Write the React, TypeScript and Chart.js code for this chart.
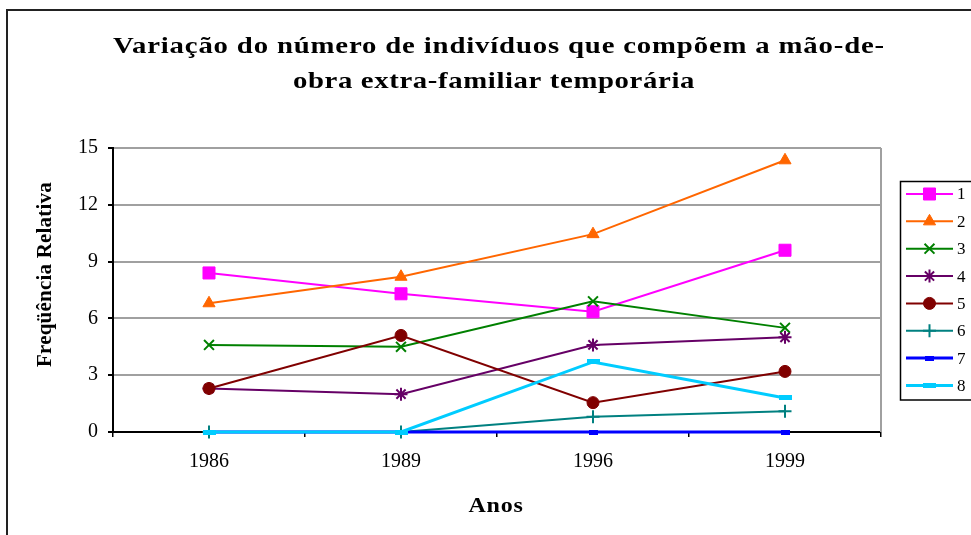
import React, { useEffect, useRef } from 'react';
import { Chart, registerables } from 'chart.js';
import { drawPoint } from 'chart.js/helpers';

Chart.register(...registerables);

// ---- data ----
const categories = ['1986', '1989', '1996', '1999'];
const seriesNames = ['1', '2', '3', '4', '5', '6', '7', '8'];
const series1 = [8.4, 7.3, 6.35, 9.6];
const series2 = [6.8, 8.2, 10.45, 14.35];
const series3 = [4.6, 4.5, 6.9, 5.5];
const series4 = [2.3, 2.0, 4.6, 5.0];
const series5 = [2.3, 5.1, 1.55, 3.2];
const series6 = [0, 0, 0.8, 1.1];
const series7 = [0, 0, 0, 0];
const series8 = [0, 0, 3.7, 1.8];
const yMin = 0;
const yMax = 15;
const yStep = 3;

const titleLines = ['Variação do número de indivíduos que compõem a mão-de-', 'obra extra-familiar temporária'];
const yTitle = 'Freqüência Relativa';
const xTitle = 'Anos';

const SERIF = '"Liberation Serif", "Times New Roman", serif';

function barMarker(w: number, h: number, color: string): HTMLCanvasElement {
  const c = document.createElement('canvas');
  c.width = w;
  c.height = h;
  const g = c.getContext('2d')!;
  g.fillStyle = color;
  g.fillRect(0, 0, w, h);
  return c;
}

// draws text centred on cx, stretched horizontally by sx and letter-spaced to fill target width
function fitText(ctx: CanvasRenderingContext2D, text: string, cx: number, y: number, target: number, sx = 1) {
  ctx.save();
  (ctx as any).letterSpacing = '0px';
  const w = ctx.measureText(text).width;
  const sp = (target - w * sx) / (sx * text.length);
  ctx.translate(cx - target / 2, y);
  ctx.scale(sx, 1);
  (ctx as any).letterSpacing = sp + 'px';
  ctx.textAlign = 'left';
  ctx.fillText(text, 0, 0);
  ctx.restore();
}

export default function App() {
  const ref = useRef<HTMLCanvasElement | null>(null);

  useEffect(() => {
    const canvas = ref.current;
    if (!canvas) return;

    const styles = [
      { color: '#FF00FF', pointStyle: 'rect' as any, radius: 8.5, bw: 1, lw: 2 },
      { color: '#FF6600', pointStyle: 'triangle' as any, radius: 7, bw: 1, lw: 2 },
      { color: '#008000', pointStyle: 'crossRot' as any, radius: 7, bw: 2, lw: 2 },
      { color: '#660066', pointStyle: 'star' as any, radius: 6.5, bw: 2, lw: 2 },
      { color: '#800000', pointStyle: 'circle' as any, radius: 6, bw: 1, lw: 2 },
      { color: '#008080', pointStyle: 'cross' as any, radius: 6.5, bw: 2, lw: 2 },
      { color: '#0000FF', pointStyle: barMarker(9, 5, '#0000FF') as any, radius: 5, bw: 1, lw: 3 },
      { color: '#00CCFF', pointStyle: barMarker(13, 5, '#00CCFF') as any, radius: 5, bw: 1, lw: 3 },
    ];
    const allSeries = [series1, series2, series3, series4, series5, series6, series7, series8];

    const datasets = allSeries.map((d, i) => ({
      label: seriesNames[i],
      data: d,
      borderColor: styles[i].color,
      backgroundColor: styles[i].color,
      borderWidth: styles[i].lw,
      pointStyle: styles[i].pointStyle,
      pointRadius: styles[i].radius,
      pointBorderWidth: styles[i].bw,
      pointBackgroundColor: styles[i].color,
      pointBorderColor: styles[i].color,
      tension: 0,
      clip: false as any,
      order: allSeries.length - i,
    }));

    const decor = {
      id: 'decor',
      afterDraw(chart: any) {
        const ctx: CanvasRenderingContext2D = chart.ctx;
        const a = chart.chartArea;
        ctx.save();
        // right plot border
        ctx.strokeStyle = '#a0a0a0';
        ctx.lineWidth = 2;
        ctx.beginPath();
        ctx.moveTo(a.right, a.top);
        ctx.lineTo(a.right, a.bottom);
        ctx.stroke();
        // outer frame
        ctx.strokeStyle = '#222';
        ctx.lineWidth = 2;
        ctx.beginPath();
        ctx.moveTo(7, 540);
        ctx.lineTo(7, 10);
        ctx.lineTo(975, 10);
        ctx.stroke();
        // title
        ctx.fillStyle = '#000';
        ctx.textBaseline = 'alphabetic';
        ctx.font = 'bold 23px ' + SERIF;
        fitText(ctx, titleLines[0], 499, 53, 772, 1.25);
        fitText(ctx, titleLines[1], 494, 88, 402, 1.25);
        // x title
        ctx.font = 'bold 20px ' + SERIF;
        fitText(ctx, xTitle, 496, 512, 55, 1.2);
        // y title
        ctx.save();
        ctx.translate(51, 274.5);
        ctx.rotate(-Math.PI / 2);
        ctx.font = 'bold 21px ' + SERIF;
        fitText(ctx, yTitle, 0, 0, 185, 1);
        ctx.restore();
        // legend
        ctx.strokeStyle = '#000';
        ctx.lineWidth = 1.5;
        ctx.strokeRect(900.5, 181.5, 90, 218.5);
        ctx.font = '17px ' + SERIF;
        ctx.textBaseline = 'middle';
        for (let i = 0; i < seriesNames.length; i++) {
          const y = 194 + i * 27.35;
          const s = styles[i];
          ctx.strokeStyle = s.color;
          ctx.fillStyle = s.color;
          ctx.lineWidth = s.lw;
          ctx.beginPath();
          ctx.moveTo(906, y);
          ctx.lineTo(953, y);
          ctx.stroke();
          ctx.lineWidth = s.bw;
          drawPoint(ctx, { pointStyle: s.pointStyle, radius: s.radius, rotation: 0, borderWidth: s.bw } as any, 929.5, y);
          ctx.fillStyle = '#000';
          ctx.textAlign = 'left';
          ctx.fillText(seriesNames[i], 957, y + 1);
        }
        ctx.restore();
      },
    };

    const chart = new Chart(canvas, {
      type: 'line',
      data: { labels: categories, datasets: datasets as any },
      options: {
        responsive: false,
        animation: false,
        devicePixelRatio: 1,
        layout: { padding: { left: 0, top: 148, right: 90, bottom: 0 } },
        plugins: { legend: { display: false }, title: { display: false }, tooltip: { enabled: false } },
        scales: {
          x: {
            offset: true,
            afterFit(scale: any) { scale.height = 103; },
            grid: { drawOnChartArea: false, drawTicks: true, tickLength: 5, tickColor: '#000', lineWidth: 1.5, offset: true },
            border: { display: true, color: '#000', width: 2 },
            ticks: { color: '#000', font: { family: SERIF, size: 20 }, padding: 13, maxRotation: 0 },
          },
          y: {
            min: yMin,
            max: yMax,
            afterFit(scale: any) { scale.width = 113; },
            grid: { color: '#a0a0a0', lineWidth: 2, drawTicks: true, tickLength: 5, tickColor: '#000' },
            border: { display: true, color: '#000', width: 2 },
            ticks: { stepSize: yStep, color: '#000', font: { family: SERIF, size: 20 }, padding: 10 },
          },
        },
      },
      plugins: [decor],
    });
    return () => chart.destroy();
  }, []);

  return (
    <div style={{ position: 'fixed', left: 0, top: 0, width: 971, height: 535, background: '#fff' }}>
      <canvas ref={ref} width={971} height={535} style={{ width: 971, height: 535, display: 'block' }} />
    </div>
  );
}
